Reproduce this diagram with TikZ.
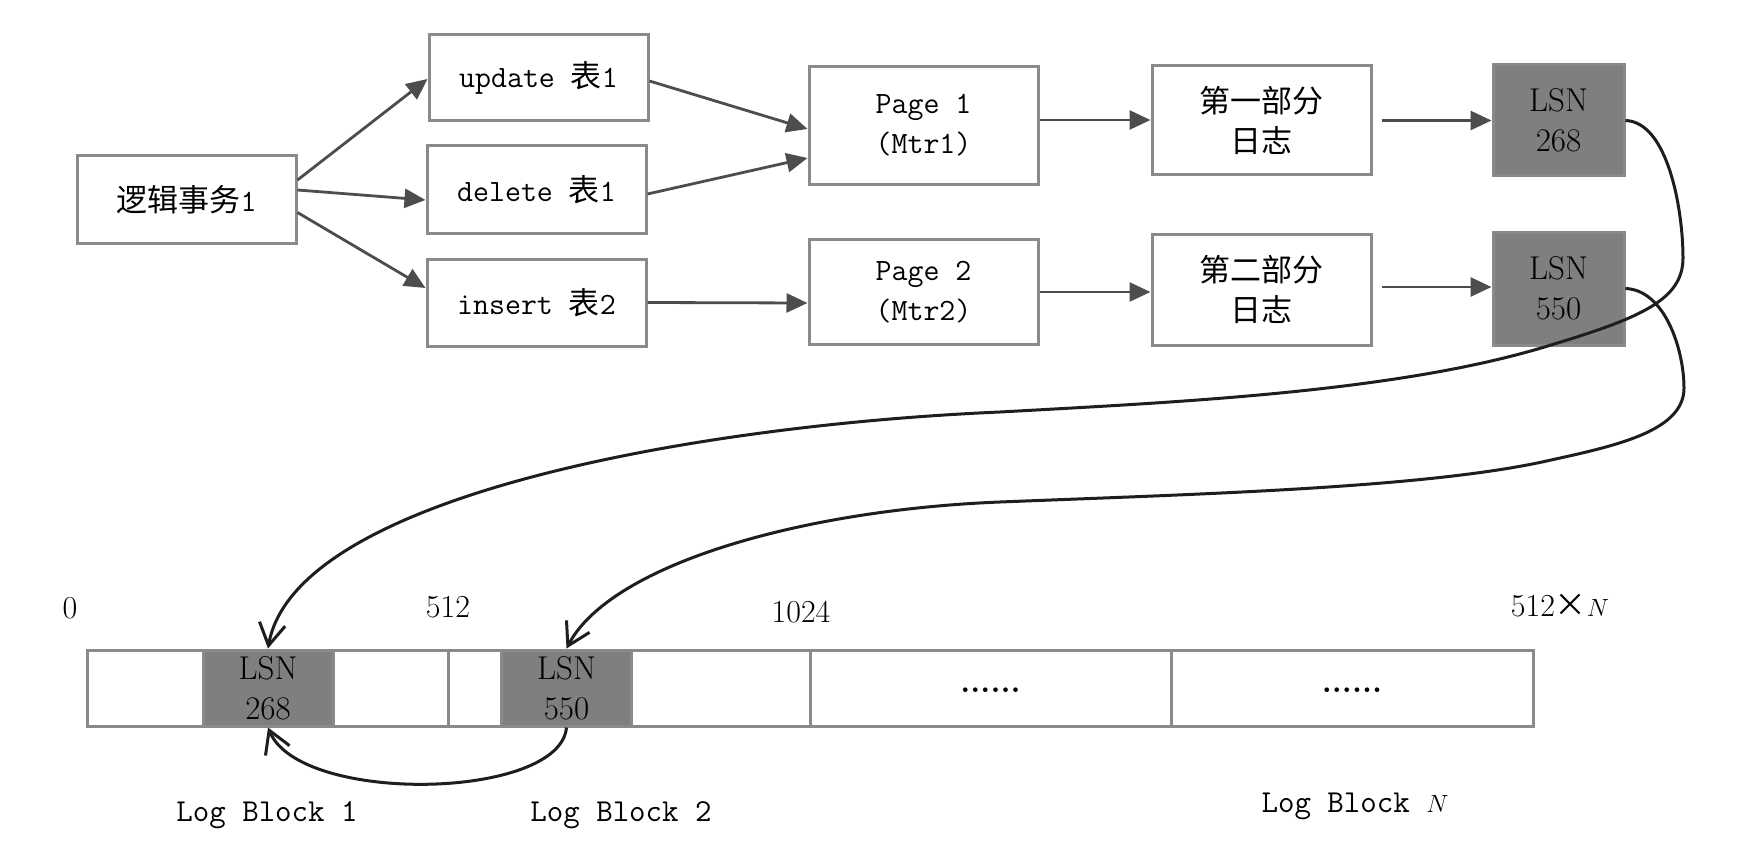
\documentclass[tikz,border=0pt]{standalone}
\usepackage{fontspec}
\newfontfamily\cjk{Noto Sans CJK SC}
\usetikzlibrary{arrows.meta,calc}
\definecolor{boxgray}{HTML}{8A8A8A}
\definecolor{arrgray}{HTML}{4D4D4D}
\definecolor{lsngray}{HTML}{7F7F7F}
\definecolor{curveblack}{HTML}{1E1E1E}
\tikzset{
  box/.style={draw=boxgray, line width=3pt, fill=white, inner sep=0pt, align=center,
              font=\fontsize{31pt}{40pt}\selectfont},
  lsnbox/.style={box, fill=lsngray, font=\fontsize{33pt}{40pt}\selectfont},
  flow/.style={draw=arrgray, line width=2.8pt, -{Triangle[length=21pt,width=19pt]}},
  link/.style={draw=curveblack, line width=3pt, -{Straight Barb[length=22pt,width=26pt]}},
  lbl/.style={inner sep=0pt, font=\fontsize{32pt}{40pt}\selectfont},
}
\begin{document}
\begin{tikzpicture}[x=1pt,y=-1pt]
\fill[white] (0,0) rectangle (1749,864);
\useasboundingbox (0,0) rectangle (1749,864);

% top row nodes
\node[box, minimum width=219pt, minimum height=87pt] (t1) at (186.5,199.5) {{\cjk 逻辑事务}\texttt{1}};
\node[box, minimum width=219pt, minimum height=86pt] (u) at (538.5,78) {\texttt{update }{\cjk 表}\texttt{1}};
\node[box, minimum width=219pt, minimum height=87pt] (d) at (536.5,189.5) {\texttt{delete }{\cjk 表}\texttt{1}};
\node[box, minimum width=219pt, minimum height=87pt] (i) at (536.5,302.5) {\texttt{insert }{\cjk 表}\texttt{2}};
\node[box, minimum width=229pt, minimum height=118pt] (p1) at (923.5,125.5) {\texttt{Page 1}\\\texttt{(Mtr1)}};
\node[box, minimum width=229pt, minimum height=105pt] (p2) at (923.5,292) {\texttt{Page 2}\\\texttt{(Mtr2)}};
\node[box, minimum width=219pt, minimum height=109pt] (f1) at (1261.5,120.5) {\cjk 第一部分\\\cjk 日志};
\node[box, minimum width=219pt, minimum height=111pt] (f2) at (1261.5,289.5) {\cjk 第二部分\\\cjk 日志};
\node[lsnbox, minimum width=131pt, minimum height=111pt] (l1) at (1558.5,120.5) {LSN\\268};
\node[lsnbox, minimum width=131pt, minimum height=113pt] (l2) at (1558.5,288.5) {LSN\\550};

% straight arrows
\draw[flow] ($(t1.east)+(0,-19.5)$) -- ($(u.west)+(0,1)$);
\draw[flow] ($(t1.east)+(0,-9.5)$) -- ($(d.west)+(0,10.5)$);
\draw[flow] ($(t1.east)+(0,13)$) -- ($(i.west)+(0,-14.5)$);
\draw[flow] ($(u.east)+(0,3)$) -- ($(p1.west)+(0,3.5)$);
\draw[flow] ($(d.east)+(0,4.5)$) -- ($(p1.west)+(0,32.5)$);
\draw[flow] (i.east) -- ($(p2.west)+(0,11)$);
\draw[flow] ($(p1.east)+(0,-5.5)$) -- ($(f1.west)+(0,-0.5)$);
\draw[flow] (p2.east) -- ($(f2.west)+(0,2.5)$);
\draw[flow] ($(f1.east)+(9,0)$) -- (l1.west);
\draw[flow] ($(f2.east)+(9,-2.5)$) -- ($(l2.west)+(0,-1.5)$);

% bottom bar
\node[box, minimum width=361pt, minimum height=76pt] (b1) at (267.5,688) {};
\node[box, minimum width=362pt, minimum height=76pt] (b2) at (629,688) {};
\node[box, minimum width=361pt, minimum height=76pt] (b3) at (990.5,688) {};
\node[box, minimum width=362pt, minimum height=76pt] (b4) at (1352,688) {};
\node[lsnbox, minimum width=130pt, minimum height=76pt] (g1) at (268,688) {LSN\\268};
\node[lsnbox, minimum width=130pt, minimum height=76pt] (g2) at (566.5,688) {LSN\\550};
\node[lbl, font=\fontsize{32pt}{40pt}\selectfont\bfseries] (e1) at (990.5,690) {......};
\node[lbl, font=\fontsize{32pt}{40pt}\selectfont\bfseries] (e2) at (1352,690) {......};

% labels
\node[lbl] (n0) at (70,608) {0};
\node[lbl] (n512) at (448,607) {512};
\node[lbl] (n1024) at (801,612) {1024};
\node[lbl] (nN) at (1560,606) {512{\cjk ×}$N$};
\node[lbl] (lb1) at (267,815) {\texttt{Log Block 1}};
\node[lbl] (lb2) at (621,815) {\texttt{Log Block 2}};
\node[lbl] (lbN) at (1355,806) {\texttt{Log Block }$N$};

% curves
\draw[link] (l1.east) .. controls (1668,122) and (1683,210) .. (1683,258)
  .. controls (1683,300) and (1640,318) .. (1551,345)
  .. controls (1400,392) and (1180,402) .. (1000,412)
  .. controls (700,425) and (295,495) .. (g1.north);
\draw[link] (l2.east) .. controls (1665,290) and (1684,350) .. (1684,388)
  .. controls (1684,430) and (1620,445) .. (1551,460)
  .. controls (1430,488) and (1200,494) .. (1000,502)
  .. controls (800,510) and (610,565) .. (g2.north);
\draw[link] (g2.south) .. controls (560,800) and (300,805) .. (g1.south);
\end{tikzpicture}
\end{document}
